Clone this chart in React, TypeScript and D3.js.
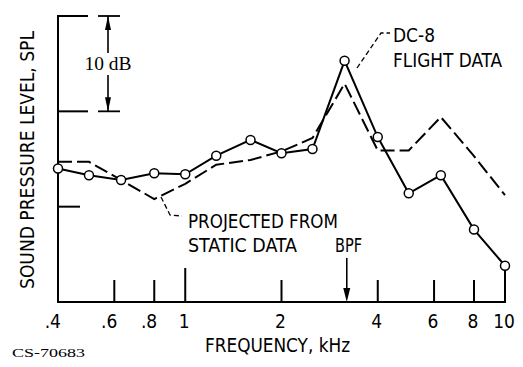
import React from "react";
import * as d3 from "d3";

const frequencies = [0.4, 0.5, 0.63, 0.8, 1.0, 1.25, 1.6, 2.0, 2.5, 3.15, 4.0, 5.0, 6.3, 8.0, 10.0];
const flightSPL = [14.0, 13.3, 12.8, 13.5, 13.4, 15.35, 17.0, 15.6, 16.05, 25.3, 17.3, 11.4, 13.3, 7.6, 3.8];
const projectedSPL = [14.7, 14.7, 12.8, 10.8, 12.4, 14.4, 14.9, 15.8, 17.2, 22.9, 15.9, 15.9, 19.4, 15.3, 11.2];
const xTicks = [0.6, 0.8, 1, 2, 4, 6, 8, 10];
const xTickLabels = [".4", ".6", ".8", "1", "2", "4", "6", "8", "10"];
const xTickLabelValues = [0.4, 0.6, 0.8, 1, 2, 4, 6, 8, 10];
const yTicks = [10, 20, 30];
const bpf = 3.2;

const W = 523, H = 367;
const FONT = "'Liberation Sans Narrow', 'DejaVu Sans Condensed', 'Liberation Sans', Arial, sans-serif";

export default function App() {
  const x = d3.scaleLog().domain([0.4, 10]).range([58, 505]);
  const y = d3.scaleLinear().domain([0, 30]).range([302, 16]);
  const line = d3.line<number>().x((_, i) => x(frequencies[i])).y((d) => y(d));
  const x0 = x(0.4), xEnd = x(10), yBase = y(0), yTop = y(30);
  const bx = 108;
  const bpfX = x(bpf);

  return (
    <svg width={W} height={H} style={{ position: "absolute", left: 0, top: 0, background: "#fff" }}>
      <rect width={W} height={H} fill="#fff" />
      {/* axes */}
      <line x1={x0} y1={yTop - 1} x2={x0} y2={yBase + 1} stroke="#000" strokeWidth={2} />
      <line x1={x0 - 1} y1={yBase} x2={xEnd + 1} y2={yBase} stroke="#000" strokeWidth={2} />
      {yTicks.map((t) => (
        <line key={t} x1={x0} x2={x0 + (t >= 20 ? 30 : 22)} y1={y(t)} y2={y(t)} stroke="#000" strokeWidth={2} />
      ))}
      {xTicks.map((t) => (
        <line key={t} x1={x(t)} x2={x(t)} y1={yBase} y2={yBase - (t === 1 || t === 10 ? 34 : 22)} stroke="#000" strokeWidth={2} />
      ))}
      {/* 10 dB bracket */}
      <line x1={bx - 10} x2={bx + 12} y1={y(30)} y2={y(30)} stroke="#000" strokeWidth={1.8} />
      <line x1={bx - 10} x2={bx + 12} y1={y(20)} y2={y(20)} stroke="#000" strokeWidth={1.8} />
      <line x1={bx} x2={bx} y1={y(30)} y2={53} stroke="#000" strokeWidth={1.6} />
      <line x1={bx} x2={bx} y1={75} y2={y(20)} stroke="#000" strokeWidth={1.6} />
      <path d={`M${bx},${y(30)} L${bx - 3},${y(30) + 14} L${bx + 3},${y(30) + 14} Z`} fill="#000" />
      <path d={`M${bx},${y(20)} L${bx - 3},${y(20) - 14} L${bx + 3},${y(20) - 14} Z`} fill="#000" />
      <text x={bx} y={70} textAnchor="middle" fontFamily="'Liberation Serif', 'DejaVu Serif', serif" fontSize={19} textLength={47} lengthAdjust="spacingAndGlyphs">10 dB</text>
      {/* projected (dashed) */}
      <path d={line(projectedSPL) || ""} fill="none" stroke="#000" strokeWidth={2} strokeDasharray="14,5" />
      {/* flight (solid with circles) */}
      <path d={line(flightSPL) || ""} fill="none" stroke="#000" strokeWidth={2} />
      {flightSPL.map((v, i) => (
        <circle key={i} cx={x(frequencies[i])} cy={y(v)} r={4.5} fill="#fff" stroke="#000" strokeWidth={1.5} />
      ))}
      {/* leaders */}
      <path d="M357,68 L381,33 L390,33" fill="none" stroke="#000" strokeWidth={1.3} strokeDasharray="5,3" />
      <path d="M161,197 L170,215 L182,216" fill="none" stroke="#000" strokeWidth={1.3} strokeDasharray="5,3" />
      {/* annotations */}
      <text x={393} y={42} fontFamily={FONT} fontSize={20} textLength={42} lengthAdjust="spacingAndGlyphs">DC-8</text>
      <text x={393} y={67} fontFamily={FONT} fontSize={20} textLength={109} lengthAdjust="spacingAndGlyphs">FLIGHT DATA</text>
      <text x={188} y={228} fontFamily={FONT} fontSize={20} textLength={150} lengthAdjust="spacingAndGlyphs">PROJECTED FROM</text>
      <text x={188} y={252} fontFamily={FONT} fontSize={20} textLength={109} lengthAdjust="spacingAndGlyphs">STATIC DATA</text>
      <text x={335} y={252} fontFamily={FONT} fontSize={20} textLength={27} lengthAdjust="spacingAndGlyphs">BPF</text>
      <line x1={bpfX} x2={bpfX} y1={258} y2={290} stroke="#000" strokeWidth={1.6} />
      <path d={`M${bpfX},${yBase} L${bpfX - 3.5},${yBase - 14} L${bpfX + 3.5},${yBase - 14} Z`} fill="#000" />
      {/* tick labels */}
      {xTickLabels.map((lab, i) => {
        const v = xTickLabelValues[i];
        const dec = lab.startsWith(".");
        return (
          <text key={lab} x={dec ? x(v) + 3 : x(v) - 1} y={328} textAnchor={dec ? "end" : "middle"} fontFamily={FONT} fontSize={19}>{lab}</text>
        );
      })}
      <text x={205} y={352} fontFamily={FONT} fontSize={20} textLength={145} lengthAdjust="spacingAndGlyphs">FREQUENCY, kHz</text>
      <text transform="translate(34,160) rotate(-90)" textAnchor="middle" fontFamily={FONT} fontSize={20} textLength={258} lengthAdjust="spacingAndGlyphs">SOUND PRESSURE LEVEL, SPL</text>
      <text x={12} y={357} fontFamily="'Liberation Serif', 'DejaVu Serif', serif" fontSize={12} textLength={73} lengthAdjust="spacingAndGlyphs">CS-70683</text>
    </svg>
  );
}
